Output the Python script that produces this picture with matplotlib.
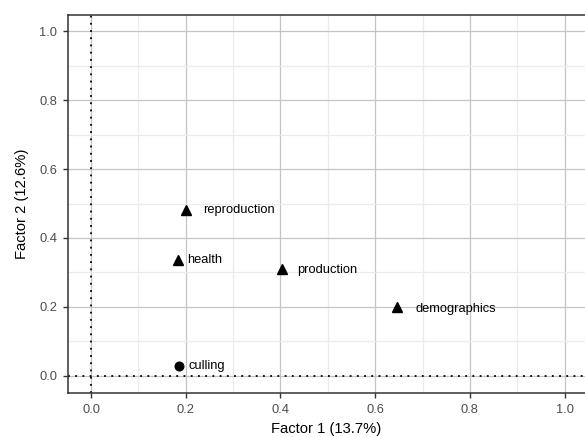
import matplotlib
matplotlib.use("Agg")
import matplotlib.pyplot as plt
from matplotlib.ticker import MultipleLocator

labels = ["culling", "health", "production", "demographics", "reproduction"]
factor1 = [0.186, 0.184, 0.403, 0.645, 0.200]
factor2 = [0.029, 0.336, 0.310, 0.199, 0.481]
shapes = ["o", "^", "^", "^", "^"]
xticks = [0.0, 0.2, 0.4, 0.6, 0.8, 1.0]
yticks = [0.0, 0.2, 0.4, 0.6, 0.8, 1.0]
xtitle = "Factor 1 (13.7%)"
ytitle = "Factor 2 (12.6%)"

# label offsets in points (style)
offsets = {"culling": (6.5, 0), "health": (6.5, 0), "production": (11, -0.5),
           "demographics": (14, -1.5), "reproduction": (12.5, 0)}

plt.rcParams['font.family'] = ['Liberation Sans', 'DejaVu Sans']
fig = plt.figure(figsize=(5.85, 4.37), dpi=100)
ax = fig.add_axes([68/585, 1-392.7/437, 1-68/585, (392.7-15)/437])

ax.set_xlim(-0.0486, 1.043)
ax.set_ylim(-0.049, 1.047)

ax.xaxis.set_minor_locator(MultipleLocator(0.1))
ax.yaxis.set_minor_locator(MultipleLocator(0.1))
ax.set_xticks(xticks)
ax.set_yticks(yticks)
ax.set_xticklabels([f"{v:.1f}" for v in xticks])
ax.set_yticklabels([f"{v:.1f}" for v in yticks])
ax.grid(which='major', color='#c4c4c4', linewidth=0.9)
ax.grid(which='minor', color='#ebebeb', linewidth=0.9)
ax.set_axisbelow(True)

ax.axvline(0, color='black', linestyle=(0, (1, 3)), linewidth=1.3, zorder=2)
ax.axhline(0, color='black', linestyle=(0, (1, 3)), linewidth=1.3, zorder=2)

for lab, x, y, m in zip(labels, factor1, factor2, shapes):
    ax.plot(x, y, marker=m, color='black', markersize=7.2 if m == '^' else 6.2,
            linestyle='none', zorder=3)
    dx, dy = offsets[lab]
    ax.annotate(lab, (x, y), xytext=(dx, dy), textcoords='offset points',
                ha='left', va='center', fontsize=9.3, color='black')

for s in ['left', 'bottom', 'top']:
    ax.spines[s].set_color('#333333')
    ax.spines[s].set_linewidth(1.1)
ax.spines['right'].set_visible(False)

ax.tick_params(axis='both', which='major', length=3.8, width=1, color='#333333',
               labelsize=9.3, labelcolor='#4d4d4d', pad=4)
ax.tick_params(axis='both', which='minor', length=0)

ax.set_xlabel(xtitle, fontsize=10.6, color='black', labelpad=5)
ax.set_ylabel(ytitle, fontsize=10.6, color='black', labelpad=7)

fig.savefig("out.png", dpi=100)
